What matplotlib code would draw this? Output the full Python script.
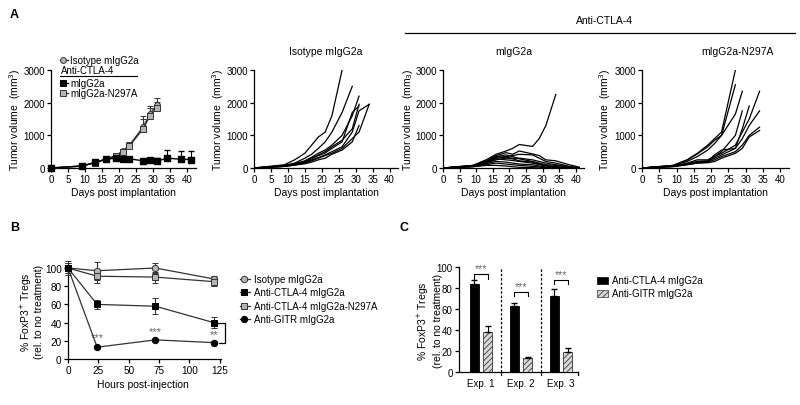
import matplotlib
matplotlib.use('Agg')
import matplotlib.pyplot as plt
import numpy as np
from matplotlib.lines import Line2D
from matplotlib.patches import Rectangle

plt.rcParams['font.family'] = ['Liberation Sans', 'DejaVu Sans']
plt.rcParams['hatch.linewidth'] = 0.6
plt.rcParams['axes.linewidth'] = 0.9

W, H = 800, 406
fig = plt.figure(figsize=(8, 4.06), dpi=100)


def rect(l, t, r, b):
    return [l / W, 1 - b / H, (r - l) / W, (b - t) / H]


def fx(x):
    return x / W


def fy(y):
    return 1 - y / H


# ---------------- Data: panel A (group means) ----------------
a_days_iso = [0, 9, 13, 16, 19, 21, 23, 27, 29, 31]
a_iso_mean = [0, 60, 170, 270, 380, 520, 700, 1250, 1650, 1930]
a_iso_err = [0, 20, 30, 40, 50, 70, 90, 350, 250, 200]
a_n297a_mean = [0, 60, 165, 265, 360, 480, 680, 1200, 1600, 1830]
a_n297a_err = [0, 20, 30, 40, 50, 60, 80, 300, 230, 180]
a_days_ctla = [0, 9, 13, 16, 19, 21, 23, 27, 29, 31, 34, 38, 41]
a_ctla_mean = [0, 60, 170, 270, 300, 290, 280, 220, 240, 210, 300, 270, 260]
a_ctla_err = [0, 20, 30, 40, 50, 60, 50, 50, 60, 100, 250, 250, 250]

# ---------------- Data: panel A (individual mice) ----------------
iso_days = [0, 9, 12, 15, 17, 19, 21, 23, 26, 29, 31, 34]
iso_m1 = [0, 100, 250, 450, 700, 950, 1100, 1600, 3000, None, None, None]
iso_m2 = [0, 80, 150, 300, 420, 600, 800, 1100, 1700, 2500, None, None]
iso_m3 = [0, 70, 130, 220, 330, 450, 550, 700, 1000, 1600, 2200, None]
iso_m4 = [0, 60, 120, 200, 300, 400, 500, 650, 850, 1200, 1950, None]
iso_m5 = [0, 60, 110, 180, 280, 380, 460, 600, 800, 1700, 1900, None]
iso_m6 = [0, 50, 90, 150, 220, 300, 380, 450, 600, 900, 1100, 1950]
iso_m7 = [0, 50, 100, 160, 240, 320, 400, 500, 650, 1100, 1750, 1950]
iso_m8 = [0, 50, 90, 130, 180, 250, 300, 420, 550, 800, 1300, None]

ctla_days = [0, 9, 13, 16, 19, 21, 23, 27, 29, 31, 34, 38, 41]
ctla_m1 = [0, 80, 250, 420, 520, 600, 720, 660, 900, 1300, 2250, None, None]
ctla_m2 = [0, 70, 220, 380, 470, 420, 520, 430, 380, 250, 220, 100, 30]
ctla_m3 = [0, 80, 200, 330, 350, 380, 420, 400, 300, 200, 150, 50, 0]
ctla_m4 = [0, 60, 180, 300, 330, 300, 300, 250, 200, 150, 100, 30, 0]
ctla_m5 = [0, 60, 150, 280, 250, 230, 200, 150, 100, 60, 30, 10, 0]
ctla_m6 = [0, 50, 150, 250, 300, 280, 220, 180, 130, 80, 40, 10, 0]
ctla_m7 = [0, 60, 130, 200, 180, 150, 120, 100, 60, 30, 10, 0, 0]
ctla_m8 = [0, 40, 100, 150, 120, 100, 80, 50, 30, 10, 0, 0, 0]
ctla_m9 = [0, 50, 200, 350, 400, 350, 280, 200, 150, 100, 80, 40, 0]
ctla_m10 = [0, 40, 80, 80, 60, 40, 20, 10, 0, 0, 0, 0, 0]

n297a_days = [0, 9, 13, 16, 19, 21, 23, 27, 29, 31, 34]
n297a_m1 = [0, 80, 250, 450, 700, 900, 1100, 3000, None, None, None]
n297a_m2 = [0, 80, 240, 430, 650, 850, 1000, 2550, None, None, None]
n297a_m3 = [0, 70, 200, 350, 550, 750, 1000, 1650, 2350, None, None]
n297a_m4 = [0, 60, 150, 250, 250, 350, 500, 1000, 1750, None, None]
n297a_m5 = [0, 60, 120, 200, 220, 400, 550, 600, 1200, 1900, None]
n297a_m6 = [0, 50, 120, 200, 200, 350, 450, 700, 1100, 1500, 2350]
n297a_m7 = [0, 50, 120, 180, 200, 300, 400, 600, 900, 1300, 1750]
n297a_m8 = [0, 50, 100, 150, 180, 250, 350, 500, 700, 1000, 1250]
n297a_m9 = [0, 40, 100, 150, 160, 200, 300, 450, 600, 950, 1150]

# ---------------- Data: panel B ----------------
b_hours = [0, 24, 72, 120]
b_iso = [100, 97, 100, 88]
b_iso_err = [8, 10, 5, 3]
b_ctla = [100, 60, 58, 40]
b_ctla_err = [5, 5, 9, 6]
b_n297a = [100, 91, 90, 85]
b_n297a_err = [5, 7, 6, 5]
b_gitr = [100, 13, 21, 18]
b_gitr_err = [3, 1, 1.5, 1.5]
b_stars = ['***', '***', '**']
b_star_y = [24, 31, 27]

# ---------------- Data: panel C ----------------
c_exps = ['Exp. 1', 'Exp. 2', 'Exp. 3']
c_ctla = [84, 63, 72.5]
c_ctla_err = [4, 3, 7]
c_gitr = [38, 13, 19.5]
c_gitr_err = [5.5, 1.5, 3.5]

GREY = '#b4b4b4'
TICK_FS = 7
LAB_FS = 7.5


def style_axes(ax, fs=TICK_FS):
    ax.spines[['top', 'right']].set_visible(False)
    ax.tick_params(labelsize=fs, length=3, width=0.9, pad=1.5, color='black')


def arr(v):
    return np.array(v, dtype=float)


# ================= Panel A1 =================
axA1 = fig.add_axes(rect(51, 71, 196, 169))
axA1.errorbar(a_days_iso, a_iso_mean, yerr=[np.zeros(len(a_iso_err)), a_iso_err],
              color='#333333', lw=1, marker='o', ms=4.2, mfc=GREY, mec='#333333',
              mew=0.7, capsize=2, elinewidth=0.8, clip_on=False, zorder=3)
axA1.errorbar(a_days_iso, a_n297a_mean, yerr=[np.zeros(len(a_n297a_err)), a_n297a_err],
              color='#333333', lw=1, marker='s', ms=4.2, mfc=GREY, mec='#333333',
              mew=0.7, capsize=2, elinewidth=0.8, clip_on=False, zorder=3)
axA1.errorbar(a_days_ctla, a_ctla_mean, yerr=[np.zeros(len(a_ctla_err)), a_ctla_err],
              color='black', lw=1, marker='s', ms=4.2, mfc='black', mec='black',
              capsize=2, elinewidth=0.8, clip_on=False, zorder=4)

# ================= Panels A2-A4 =================
axA2 = fig.add_axes(rect(254, 71, 398, 169))
for m in [iso_m1, iso_m2, iso_m3, iso_m4, iso_m5, iso_m6, iso_m7, iso_m8]:
    axA2.plot(iso_days, arr(m), color='black', lw=0.9)

axA3 = fig.add_axes(rect(443, 71, 584, 169))
for m in [ctla_m1, ctla_m2, ctla_m3, ctla_m4, ctla_m5, ctla_m6, ctla_m7,
          ctla_m8, ctla_m9, ctla_m10]:
    axA3.plot(ctla_days, arr(m), color='black', lw=0.9)

axA4 = fig.add_axes(rect(642, 71, 789, 169))
for m in [n297a_m1, n297a_m2, n297a_m3, n297a_m4, n297a_m5, n297a_m6,
          n297a_m7, n297a_m8, n297a_m9]:
    axA4.plot(n297a_days, arr(m), color='black', lw=0.9)

ylab_x = [15, 218, 408, 605]
ylab_txt = ['Tumor volume  (mm$^3$)', 'Tumor volume  (mm$^3$)',
            'Tumor volume  (mm$_3$)', 'Tumor volume  (mm$^3$)']
for ax, yx, yt in zip([axA1, axA2, axA3, axA4], ylab_x, ylab_txt):
    ax.set_xlim(0, 42.5)
    ax.set_ylim(0, 3000)
    ax.set_xticks(range(0, 45, 5))
    ax.set_yticks([0, 1000, 2000, 3000])
    style_axes(ax)
    pos = ax.get_position()
    fig.text(pos.x0 + pos.width / 2, fy(193), 'Days post implantation',
             ha='center', va='center', fontsize=LAB_FS)
    fig.text(fx(yx), fy(120), yt, ha='center', va='center', rotation=90,
             fontsize=LAB_FS)

# titles
fig.text(fx(326), fy(52), 'Isotype mIgG2a', ha='center', va='center', fontsize=7.5)
fig.text(fx(514), fy(52), 'mIgG2a', ha='center', va='center', fontsize=7.5)
fig.text(fx(737), fy(52), 'mIgG2a-N297A', ha='center', va='center', fontsize=7.5)
fig.text(fx(604), fy(21), 'Anti-CTLA-4', ha='center', va='center', fontsize=7.5)
fig.add_artist(Line2D([fx(405), fx(795)], [fy(34), fy(34)], color='black', lw=0.9))


# A1 legend
def leg_marker(x, y, marker, fc, ec):
    fig.add_artist(Line2D([fx(x - 3), fx(x + 5)], [fy(y), fy(y)], color=ec, lw=1))
    fig.add_artist(Line2D([fx(x)], [fy(y)], marker=marker, ms=4.2, mfc=fc,
                          mec=ec, mew=0.7, ls='none'))


leg_marker(63, 61, 'o', GREY, '#333333')
fig.text(fx(70), fy(61), 'Isotype mIgG2a', ha='left', va='center', fontsize=7)
fig.text(fx(61), fy(71), 'Anti-CTLA-4', ha='left', va='center', fontsize=7)
fig.add_artist(Line2D([fx(60), fx(137)], [fy(77), fy(77)], color='black', lw=0.8))
leg_marker(63, 84, 's', 'black', 'black')
fig.text(fx(70), fy(84), 'mIgG2a', ha='left', va='center', fontsize=7)
leg_marker(63, 94, 's', GREY, '#333333')
fig.text(fx(70), fy(94), 'mIgG2a-N297A', ha='left', va='center', fontsize=7)

# ================= Panel B =================
axB = fig.add_axes(rect(68, 269, 221, 360))
ekw = dict(capsize=2, elinewidth=0.8, clip_on=False, lw=0.9, ms=4.6, mew=0.7)
axB.errorbar(b_hours, b_iso, yerr=b_iso_err, color='#333333', marker='o',
             mfc=GREY, mec='#333333', zorder=3, **ekw)
axB.errorbar(b_hours, b_n297a, yerr=b_n297a_err, color='#333333', marker='s',
             mfc=GREY, mec='#333333', zorder=3, **ekw)
axB.errorbar(b_hours, b_ctla, yerr=b_ctla_err, color='#333333', marker='s',
             mfc='black', mec='black', zorder=4, **ekw)
axB.errorbar(b_hours, b_gitr, yerr=b_gitr_err, color='#333333', marker='o',
             mfc='black', mec='black', zorder=4, **ekw)
axB.set_xlim(0, 126)
axB.set_ylim(0, 100)
axB.set_xticks([0, 25, 50, 75, 100, 125])
axB.set_yticks([0, 20, 40, 60, 80, 100])
style_axes(axB, 7.2)
for h, v, s in zip(b_hours[1:], b_star_y, b_stars):
    axB.text(h, v, s, ha='center', va='center', fontsize=8, color='#666666')
# bracket
axB.plot([122, 129, 129, 124], [b_ctla[-1], b_ctla[-1], b_gitr[-1], b_gitr[-1]],
         color='black', lw=0.9, clip_on=False)
fig.text(fx(143), fy(385), 'Hours post-injection', ha='center', va='center',
         fontsize=LAB_FS)
fig.text(fx(26), fy(312), '% FoxP3$^{+}$ Tregs', ha='center', va='center',
         rotation=90, fontsize=LAB_FS)
fig.text(fx(38.5), fy(312), '(rel. to no treatment)', ha='center', va='center',
         rotation=90, fontsize=LAB_FS)

# B legend
b_leg = [('Isotype mIgG2a', 'o', GREY, '#333333'),
         ('Anti-CTLA-4 mIgG2a', 's', 'black', 'black'),
         ('Anti-CTLA-4 mIgG2a-N297A', 's', GREY, '#333333'),
         ('Anti-GITR mIgG2a', 'o', 'black', 'black')]
for i, (lab, mk, fc, ec) in enumerate(b_leg):
    y = 280 + i * 13.3
    fig.add_artist(Line2D([fx(240), fx(250)], [fy(y), fy(y)], color='#333333', lw=0.9))
    fig.add_artist(Line2D([fx(244)], [fy(y)], marker=mk, ms=4.6, mfc=fc, mec=ec,
                          mew=0.7, ls='none'))
    fig.text(fx(254), fy(y), lab, ha='left', va='center', fontsize=7)

# ================= Panel C =================
axC = fig.add_axes(rect(459, 268, 578, 373))
xc = np.arange(len(c_exps))
off = 0.165
bw = 0.23
axC.bar(xc - off, c_ctla, bw, color='black', edgecolor='black', lw=0.6, zorder=3)
axC.errorbar(xc - off, c_ctla, yerr=[np.zeros(3), c_ctla_err], fmt='none',
             ecolor='black', capsize=2, elinewidth=0.8, zorder=4)
axC.bar(xc + off, c_gitr, bw, color='#d8d8d8', edgecolor='#3a3a3a', hatch='//////',
        lw=0.6, zorder=3)
axC.errorbar(xc + off, c_gitr, yerr=[np.zeros(3), c_gitr_err], fmt='none',
             ecolor='black', capsize=2, elinewidth=0.8, zorder=4)
axC.set_xlim(-0.55, 2.425)
axC.set_ylim(0, 100)
axC.set_yticks([0, 20, 40, 60, 80, 100])
axC.set_xticks(xc)
axC.set_xticklabels(c_exps)
style_axes(axC, 7)
axC.tick_params(axis='x', length=0, pad=4)
for xd in [0.5, 1.5]:
    axC.plot([xd, xd], [0, 100], ls=(0, (2, 1.5)), color='black', lw=0.9)
    axC.plot([xd, xd], [0, -3], color='black', lw=0.9, clip_on=False)
axC.plot([2.425, 2.425], [0, -3], color='black', lw=0.9, clip_on=False)
for i, (yb, ys) in enumerate([(93, 98.5), (76, 81.5), (88, 93.5)]):
    axC.plot([i - off, i - off, i + off, i + off], [yb - 4, yb, yb, yb - 4],
             color='black', lw=0.8, clip_on=False)
    axC.text(i, ys, '***', ha='center', va='center', fontsize=7.5, color='#666666')
fig.text(fx(423), fy(321), '% FoxP3$^{+}$ Tregs', ha='center', va='center',
         rotation=90, fontsize=LAB_FS)
fig.text(fx(438), fy(321), '(rel. to no treatment)', ha='center', va='center',
         rotation=90, fontsize=LAB_FS)

# C legend
fig.add_artist(Rectangle((fx(597), fy(284.5)), 11 / W, 7 / H, facecolor='black',
                         edgecolor='black', lw=0.5))
fig.add_artist(Rectangle((fx(597), fy(297.5)), 11 / W, 7 / H, facecolor='#d8d8d8',
                         edgecolor='#3a3a3a', hatch='//////', lw=0.5))
fig.text(fx(612), fy(281), 'Anti-CTLA-4 mIgG2a', ha='left', va='center', fontsize=7)
fig.text(fx(612), fy(294), 'Anti-GITR mIgG2a', ha='left', va='center', fontsize=7)

# panel letters
fig.text(fx(10), fy(15), 'A', ha='left', va='center', fontsize=9, fontweight='bold')
fig.text(fx(10), fy(228), 'B', ha='left', va='center', fontsize=9, fontweight='bold')
fig.text(fx(400), fy(228), 'C', ha='left', va='center', fontsize=9, fontweight='bold')

fig.savefig('out.png', dpi=100)
